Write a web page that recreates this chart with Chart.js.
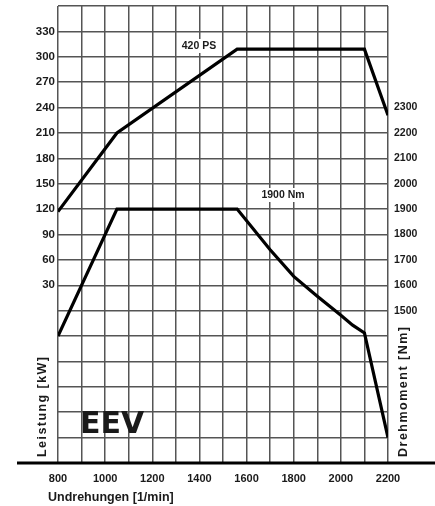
<!DOCTYPE html>
<html>
<head>
<meta charset="utf-8">
<script src="https://cdn.jsdelivr.net/npm/chart.js@4.4.0/dist/chart.umd.min.js"></script>
<style>
  html, body { margin: 0; padding: 0; background: #fff; }
  #wrap { width: 435px; height: 506px; }
</style>
</head>
<body>
<div id="wrap"><canvas id="chart" width="435" height="506"></canvas></div>
<script>
// Engine curve: power (kW, left axis) and torque (Nm, right axis) over rpm

const rpmPower  = [800, 1050, 1560, 2100, 2200];
const powerKW   = [117, 210, 309, 309, 231];

const rpmTorque = [800, 1050, 1560, 1700, 1800, 1900, 2000, 2050, 2100, 2200];
const torqueNm  = [1400, 1900, 1900, 1740, 1635, 1557, 1482, 1443, 1412, 1000];

const powerTickLabels  = [30, 60, 90, 120, 150, 180, 210, 240, 270, 300, 330];
const torqueTickLabels = [1500, 1600, 1700, 1800, 1900, 2000, 2100, 2200, 2300];
const rpmTickLabels    = [800, 1000, 1200, 1400, 1600, 1800, 2000, 2200];

const FONT = "'Liberation Sans', Arial, sans-serif";
const INK  = '#1a1a1a';
const GRID = '#555';

function toPoints(xs, ys) {
  return xs.map((x, i) => ({ x, y: ys[i] }));
}

function spacedText(ctx, text, x, y, target) {
  ctx.letterSpacing = '0px';
  const w = ctx.measureText(text).width;
  const sp = Math.max(0, (target - w) / (text.length - 1));
  ctx.letterSpacing = sp + 'px';
  ctx.fillText(text, x, y);
  ctx.letterSpacing = '0px';
}

// fixed axis sizes so the plot area matches the original sheet
function fixWidth(w) {
  return s => { s.width = w; s.paddingTop = 0; s.paddingBottom = 0; };
}

const decor = {
  id: 'decor',
  beforeDatasetsDraw(chart) {
    const { ctx } = chart;
    ctx.save();
    ctx.fillStyle = '#fff';
    ctx.fillRect(182, 39, 35, 14);
    ctx.fillRect(256, 188, 52, 14);

    ctx.fillStyle = INK;
    ctx.textAlign = 'center';
    ctx.textBaseline = 'middle';
    ctx.font = `bold 10.5px ${FONT}`;
    ctx.fillText('420 PS', 199, 46);
    ctx.fillText('1900 Nm', 283, 195);

    ctx.font = `bold 30px 'DejaVu Sans', Verdana, sans-serif`;
    ctx.fillText('EEV', 112, 425);
    ctx.restore();
  },
  afterDraw(chart) {
    const { ctx, chartArea } = chart;
    ctx.save();
    // thick base line
    ctx.strokeStyle = '#000';
    ctx.lineWidth = 3;
    ctx.beginPath();
    ctx.moveTo(17, chartArea.bottom);
    ctx.lineTo(435, chartArea.bottom);
    ctx.stroke();

    ctx.fillStyle = INK;
    ctx.textBaseline = 'middle';

    // x title
    ctx.font = `bold 12.5px ${FONT}`;
    ctx.textAlign = 'left';
    ctx.fillText('Undrehungen [1/min]', 48, 498);

    // left title
    ctx.save();
    ctx.translate(43, 457);
    ctx.rotate(-Math.PI / 2);
    ctx.font = `bold 12.5px ${FONT}`;
    ctx.textAlign = 'left';
    spacedText(ctx, 'Leistung [kW]', 0, 0, 100);
    ctx.restore();

    // right title
    ctx.save();
    ctx.translate(404, 457);
    ctx.rotate(-Math.PI / 2);
    ctx.font = `bold 12.5px ${FONT}`;
    ctx.textAlign = 'left';
    spacedText(ctx, 'Drehmoment [Nm]', 0, 0, 130);
    ctx.restore();

    ctx.restore();
  }
};

new Chart(document.getElementById('chart'), {
  type: 'line',
  data: {
    datasets: [
      {
        label: 'Leistung',
        data: toPoints(rpmPower, powerKW),
        yAxisID: 'y',
        borderColor: '#000',
        borderWidth: 3.2,
        pointRadius: 0,
        tension: 0,
        borderJoinStyle: 'miter',
      },
      {
        label: 'Drehmoment',
        data: toPoints(rpmTorque, torqueNm),
        yAxisID: 'y2',
        borderColor: '#000',
        borderWidth: 3.2,
        pointRadius: 0,
        tension: 0,
        borderJoinStyle: 'miter',
      },
    ],
  },
  options: {
    responsive: false,
    animation: false,
    layout: { padding: { top: 6, left: 0, right: 0, bottom: 0 } },
    plugins: { legend: { display: false }, tooltip: { enabled: false } },
    scales: {
      x: {
        type: 'linear',
        min: 800,
        max: 2200,
        afterFit: s => { s.height = 43; s.paddingLeft = 0; s.paddingRight = 0; },
        ticks: {
          stepSize: 100,
          autoSkip: false,
          maxRotation: 0,
          padding: 9,
          color: INK,
          font: { family: FONT, size: 11, weight: 'bold' },
          callback: v => rpmTickLabels.includes(v) ? String(v) : '',
        },
        grid: { color: GRID, lineWidth: 1.5, drawTicks: false },
        border: { display: false },
      },
      y: {
        position: 'left',
        min: -180,
        max: 360,
        afterFit: fixWidth(58),
        ticks: {
          stepSize: 30,
          autoSkip: false,
          padding: 3,
          color: INK,
          font: { family: FONT, size: 11.5, weight: 'bold' },
          callback: v => powerTickLabels.includes(v) ? String(v) : '',
        },
        grid: { color: GRID, lineWidth: 1.5, drawTicks: false },
        border: { display: false },
      },
      y2: {
        position: 'right',
        min: 900,
        max: 2700,
        afterFit: fixWidth(47),
        ticks: {
          stepSize: 100,
          autoSkip: false,
          padding: 6,
          color: INK,
          font: { family: FONT, size: 10.5, weight: 'bold' },
          callback: v => torqueTickLabels.includes(v) ? String(v) : '',
        },
        grid: { display: false, drawTicks: false },
        border: { display: false },
      },
    },
  },
  plugins: [decor],
});
</script>
</body>
</html>
